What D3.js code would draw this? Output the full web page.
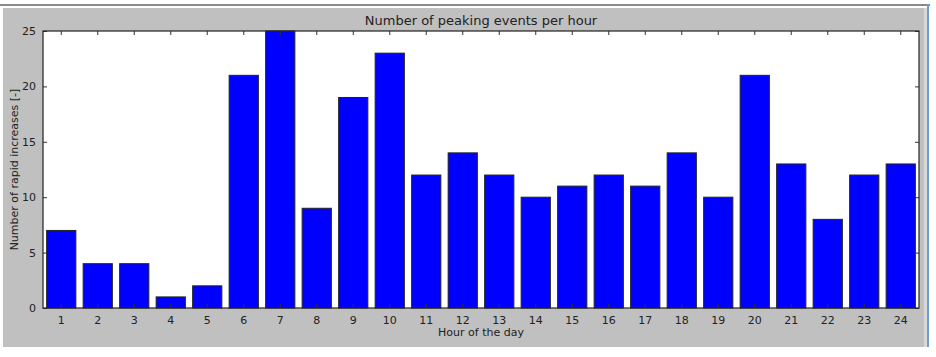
<!DOCTYPE html>
<html><head><meta charset="utf-8">
<script src="https://cdn.jsdelivr.net/npm/d3@7"></script>
<style>body{margin:0;background:#fff;} svg{display:block;} text{font-family:"DejaVu Sans",sans-serif;fill:#222;}</style>
</head><body>
<svg id="c" width="936" height="357"></svg>
<script>
const hours = ["1","2","3","4","5","6","7","8","9","10","11","12","13","14","15","16","17","18","19","20","21","22","23","24"];
const counts = [7,4,4,1,2,21,25,9,19,23,12,14,12,10,11,12,11,14,10,21,13,8,12,13];
const yTicks = [0,5,10,15,20,25];
const titleText = "Number of peaking events per hour";
const xLabel = "Hour of the day";
const yLabel = "Number of rapid increases [-]";

const svg = d3.select("#c");
// frame
svg.append("rect").attr("x",0).attr("y",4).attr("width",930).attr("height",2).attr("fill","#8a8a8a");
svg.append("rect").attr("x",3).attr("y",8).attr("width",921).attr("height",339).attr("fill","#c0c0c0");
svg.append("rect").attr("x",924).attr("y",8).attr("width",3).attr("height",339).attr("fill","#d8d8d8");
svg.append("rect").attr("x",927).attr("y",4).attr("width",2).attr("height",343).attr("fill","#6f9fd0");

const L=43, R=919, T=31, B=308;
const x = d3.scaleBand().domain(hours).range([L,R]).paddingInner(0.2).paddingOuter(0.1);
const y = d3.scaleLinear().domain([0,25]).range([B,T]);

svg.append("rect").attr("x",L).attr("y",T).attr("width",R-L).attr("height",B-T).attr("fill","#fff");

svg.selectAll(".bar").data(counts).enter().append("rect")
  .attr("x",(d,i)=>x(hours[i])).attr("y",d=>y(d))
  .attr("width",x.bandwidth()).attr("height",d=>B-y(d))
  .attr("fill","#0000ff").attr("stroke","#222").attr("stroke-width",1);

// axes with inward ticks
const gb = svg.append("g").attr("transform",`translate(0,${B})`)
  .call(d3.axisBottom(x).tickSizeInner(-4).tickSizeOuter(0).tickPadding(8));
const gt = svg.append("g").attr("transform",`translate(0,${T})`)
  .call(d3.axisTop(x).tickSizeInner(-4).tickSizeOuter(0).tickFormat(""));
const gl = svg.append("g").attr("transform",`translate(${L},0)`)
  .call(d3.axisLeft(y).tickValues(yTicks).tickSizeInner(-4).tickSizeOuter(0).tickPadding(7));
const gr = svg.append("g").attr("transform",`translate(${R},0)`)
  .call(d3.axisRight(y).tickValues(yTicks).tickSizeInner(-4).tickSizeOuter(0).tickFormat(""));
[gb,gt,gl,gr].forEach(g=>{
  g.selectAll(".domain").remove();
  g.selectAll(".tick line").attr("stroke","#333");
  g.selectAll("text").style("font-family","DejaVu Sans").style("font-size","11px").attr("fill","#222");
});
gb.selectAll("text").attr("dy","0.71em");

svg.append("rect").attr("x",L).attr("y",T).attr("width",R-L).attr("height",B-T)
  .attr("fill","none").attr("stroke","#222").attr("stroke-width",1.2);

svg.append("text").attr("x",(L+R)/2).attr("y",25).attr("text-anchor","middle")
  .style("font-size","13px").text(titleText);
svg.append("text").attr("x",(L+R)/2).attr("y",336).attr("text-anchor","middle")
  .style("font-size","11px").text(xLabel);
svg.append("text").attr("transform",`translate(18,${(T+B)/2}) rotate(-90)`).attr("text-anchor","middle")
  .style("font-size","11px").text(yLabel);
</script>
</body></html>
